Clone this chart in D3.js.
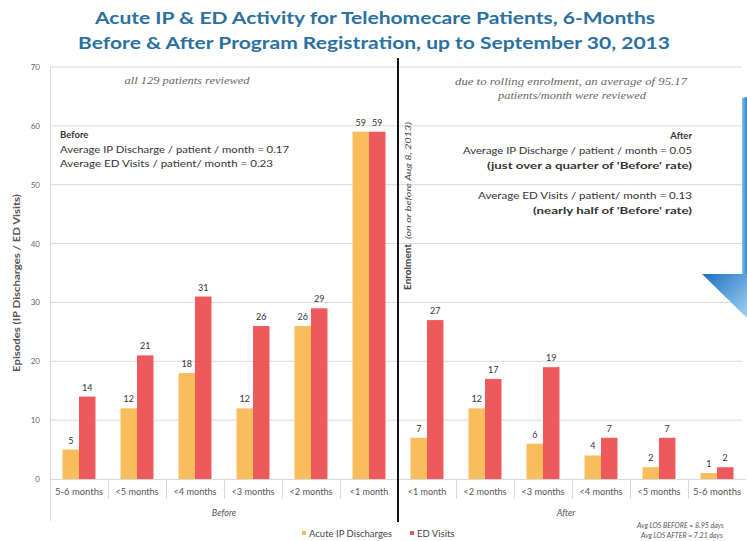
<!DOCTYPE html>
<html><head><meta charset="utf-8">
<script src="https://cdn.jsdelivr.net/npm/d3@7"></script>
<style>body{margin:0;background:#fff}svg{display:block}</style>
</head><body>
<svg id="chart" width="747" height="541"></svg>
<script>
const beforeCategories = ["5-6 months","<5 months","<4 months","<3 months","<2 months","<1 month"];
const afterCategories = ["<1 month","<2 months","<3 months","<4 months","<5 months","5-6 months"];
const beforeIP = [5,12,18,12,26,59];
const beforeED = [14,21,31,26,29,59];
const afterIP = [7,12,6,4,2,1];
const afterED = [27,17,19,7,7,2];
const yTicks = [0,10,20,30,40,50,60,70];
const seriesNames = ["Acute IP Discharges","ED Visits"];
const seriesColors = ["#F8BD5C","#EE5A5C"];

const svg = d3.select("#chart");
const sans = "Lato, 'Open Sans', sans-serif";
const serif = "'Liberation Serif', serif";

const rows = [];
beforeCategories.forEach((c,i)=>rows.push({key:"b"+i,label:c,vals:[beforeIP[i],beforeED[i]]}));
afterCategories.forEach((c,i)=>rows.push({key:"a"+i,label:c,vals:[afterIP[i],afterED[i]]}));

const x = d3.scaleBand().domain(rows.map(r=>r.key)).range([50,746]).padding(0);
const xi = d3.scaleBand().domain([0,1]).range([0,x.bandwidth()]).paddingInner(0).paddingOuter(0.76);
const y = d3.scaleLinear().domain([0,70]).range([479,67]);

// Title
const title = svg.append("g").attr("font-family",sans).attr("font-weight","bold").attr("fill","#2A70A0").attr("text-anchor","middle");
title.append("text").attr("x",375).attr("y",24).attr("font-size",17.5).attr("textLength",560).attr("lengthAdjust","spacingAndGlyphs").text("Acute IP & ED Activity for Telehomecare Patients, 6-Months");
title.append("text").attr("x",374).attr("y",49).attr("font-size",17.5).attr("textLength",592).attr("lengthAdjust","spacingAndGlyphs").text("Before & After Program Registration, up to September 30, 2013");

// Gridlines
svg.append("g").selectAll("line").data(yTicks.filter(t=>t>0)).join("line")
  .attr("x1",50).attr("x2",742).attr("y1",d=>y(d)).attr("y2",d=>y(d))
  .attr("stroke","#d9d9d9").attr("stroke-width",1);

// Y axis labels
svg.append("g").attr("font-family",sans).attr("font-size",8).attr("fill","#666").attr("text-anchor","end")
  .selectAll("text").data(yTicks).join("text")
  .attr("x",40).attr("y",d=>y(d)+3).text(d=>d);

// Axis lines
svg.append("line").attr("x1",50.5).attr("x2",50.5).attr("y1",67).attr("y2",521).attr("stroke","#d9d9d9");
svg.append("line").attr("x1",50).attr("x2",746).attr("y1",479.5).attr("y2",479.5).attr("stroke","#d9d9d9");
svg.append("g").selectAll("line").data(rows.slice(1)).join("line")
  .attr("x1",d=>x(d.key)+0.5).attr("x2",d=>x(d.key)+0.5).attr("y1",479).attr("y2",499)
  .attr("stroke","#d9d9d9");

// Y axis title
svg.append("text").attr("transform","translate(20,283) rotate(-90)").attr("text-anchor","middle")
  .attr("font-family",sans).attr("font-size",9.5).attr("font-weight","bold").attr("fill","#555")
  .attr("textLength",178).attr("lengthAdjust","spacingAndGlyphs")
  .text("Episodes (IP Discharges / ED Visits)");

// Bars
const groups = svg.append("g").selectAll("g").data(rows).join("g").attr("transform",d=>`translate(${x(d.key)},0)`);
groups.selectAll("rect").data(d=>d.vals.map((v,i)=>({v,i}))).join("rect")
  .attr("x",d=>xi(d.i)).attr("width",xi.bandwidth())
  .attr("y",d=>y(d.v)).attr("height",d=>y(0)-y(d.v))
  .attr("fill",d=>seriesColors[d.i]);
groups.selectAll("text.val").data(d=>d.vals.map((v,i)=>({v,i}))).join("text").attr("class","val")
  .attr("x",d=>xi(d.i)+xi.bandwidth()/2).attr("y",d=>y(d.v)-6)
  .attr("text-anchor","middle").attr("font-family",sans).attr("font-size",9).attr("fill","#333")
  .text(d=>d.v);

// Category labels
groups.append("text").attr("x",x.bandwidth()/2).attr("y",495).attr("text-anchor","middle")
  .attr("font-family",sans).attr("font-size",9).attr("fill","#555")
  .attr("textLength",d=>d.label.length*4.8).attr("lengthAdjust","spacingAndGlyphs")
  .text(d=>d.label);

// Group labels
svg.append("text").attr("x",224).attr("y",516).attr("text-anchor","middle").attr("font-family",sans).attr("font-size",9).attr("font-style","italic").attr("fill","#555").text("Before");
svg.append("text").attr("x",566).attr("y",516).attr("text-anchor","middle").attr("font-family",sans).attr("font-size",9).attr("font-style","italic").attr("fill","#555").text("After");

// Separator line
svg.append("line").attr("x1",x("a0")).attr("x2",x("a0")).attr("y1",58).attr("y2",522).attr("stroke","#111").attr("stroke-width",2);

// Enrolment text
const en = svg.append("g").attr("transform","translate(411,290) rotate(-90)").attr("font-family",sans).attr("fill","#444");
en.append("text").attr("x",0).attr("font-weight","bold").attr("font-size",9.5).attr("textLength",46).attr("lengthAdjust","spacingAndGlyphs").text("Enrolment");
en.append("text").attr("x",51).attr("font-size",7.5).attr("font-style","italic").attr("textLength",117).attr("lengthAdjust","spacingAndGlyphs").text("(on or before Aug 8, 2013)");

// Annotations
const ann = svg.append("g").attr("font-family",serif).attr("font-style","italic").attr("font-size",10).attr("fill","#666").attr("text-anchor","middle");
ann.append("text").attr("x",187).attr("y",84).attr("textLength",125).attr("lengthAdjust","spacingAndGlyphs").text("all 129 patients reviewed");
ann.append("text").attr("x",571).attr("y",85).attr("textLength",232).attr("lengthAdjust","spacingAndGlyphs").text("due to rolling enrolment, an average of 95.17");
ann.append("text").attr("x",572).attr("y",99).attr("textLength",148).attr("lengthAdjust","spacingAndGlyphs").text("patients/month were reviewed");

const bt = svg.append("g").attr("font-family",sans).attr("font-size",9.5).attr("fill","#333");
bt.append("text").attr("x",60).attr("y",138).attr("font-weight","bold").text("Before");
bt.append("text").attr("x",60).attr("y",153).attr("textLength",229).attr("lengthAdjust","spacingAndGlyphs").text("Average IP Discharge / patient / month = 0.17");
bt.append("text").attr("x",60).attr("y",167).attr("textLength",213).attr("lengthAdjust","spacingAndGlyphs").text("Average ED Visits / patient/ month = 0.23");

const at = svg.append("g").attr("font-family",sans).attr("font-size",9.5).attr("fill","#333").attr("text-anchor","end");
at.append("text").attr("x",692).attr("y",139).attr("font-weight","bold").text("After");
at.append("text").attr("x",692).attr("y",154).attr("textLength",229).attr("lengthAdjust","spacingAndGlyphs").text("Average IP Discharge / patient / month = 0.05");
at.append("text").attr("x",692).attr("y",169).attr("font-weight","bold").attr("textLength",205).attr("lengthAdjust","spacingAndGlyphs").text("(just over a quarter of 'Before' rate)");
at.append("text").attr("x",692).attr("y",199).attr("textLength",214).attr("lengthAdjust","spacingAndGlyphs").text("Average ED Visits / patient/ month = 0.13");
at.append("text").attr("x",692).attr("y",214).attr("font-weight","bold").attr("textLength",159).attr("lengthAdjust","spacingAndGlyphs").text("(nearly half of 'Before' rate)");

// Legend
const leg = svg.append("g").attr("font-family",sans).attr("font-size",9.5).attr("fill","#444");
const legX = [304, 412];
seriesNames.forEach((n,i)=>{
  leg.append("rect").attr("x",legX[i]-2).attr("y",531).attr("width",4).attr("height",4).attr("fill",seriesColors[i]);
  leg.append("text").attr("x",legX[i]+5).attr("y",537).text(n);
});

// LOS notes
const los = svg.append("g").attr("font-family",sans).attr("font-size",7).attr("font-style","italic").attr("fill","#555");
los.append("text").attr("x",637).attr("y",528).text("Avg LOS BEFORE = 8.95 days");
los.append("text").attr("x",641).attr("y",538).text("Avg LOS AFTER = 7.21 days");

// Blue arrow decoration
const defs = svg.append("defs");
const g1 = defs.append("linearGradient").attr("id","blueV").attr("x1","0").attr("x2","1").attr("y1","0").attr("y2","0");
g1.append("stop").attr("offset","0").attr("stop-color","#7FC0EE");
g1.append("stop").attr("offset","1").attr("stop-color","#2E86D4");
const g2 = defs.append("linearGradient").attr("id","blueD").attr("x1","0").attr("x2","1").attr("y1","0").attr("y2","1");
g2.append("stop").attr("offset","0").attr("stop-color","#1F6FC0");
g2.append("stop").attr("offset","1").attr("stop-color","#9FD2F5");
svg.append("path").attr("d","M742,98 L747,97 L747,274 L742,274 Z").attr("fill","url(#blueV)");
svg.append("path").attr("d","M702,274 L747,274 L747,318 Z").attr("fill","url(#blueD)");
</script>
</body></html>
